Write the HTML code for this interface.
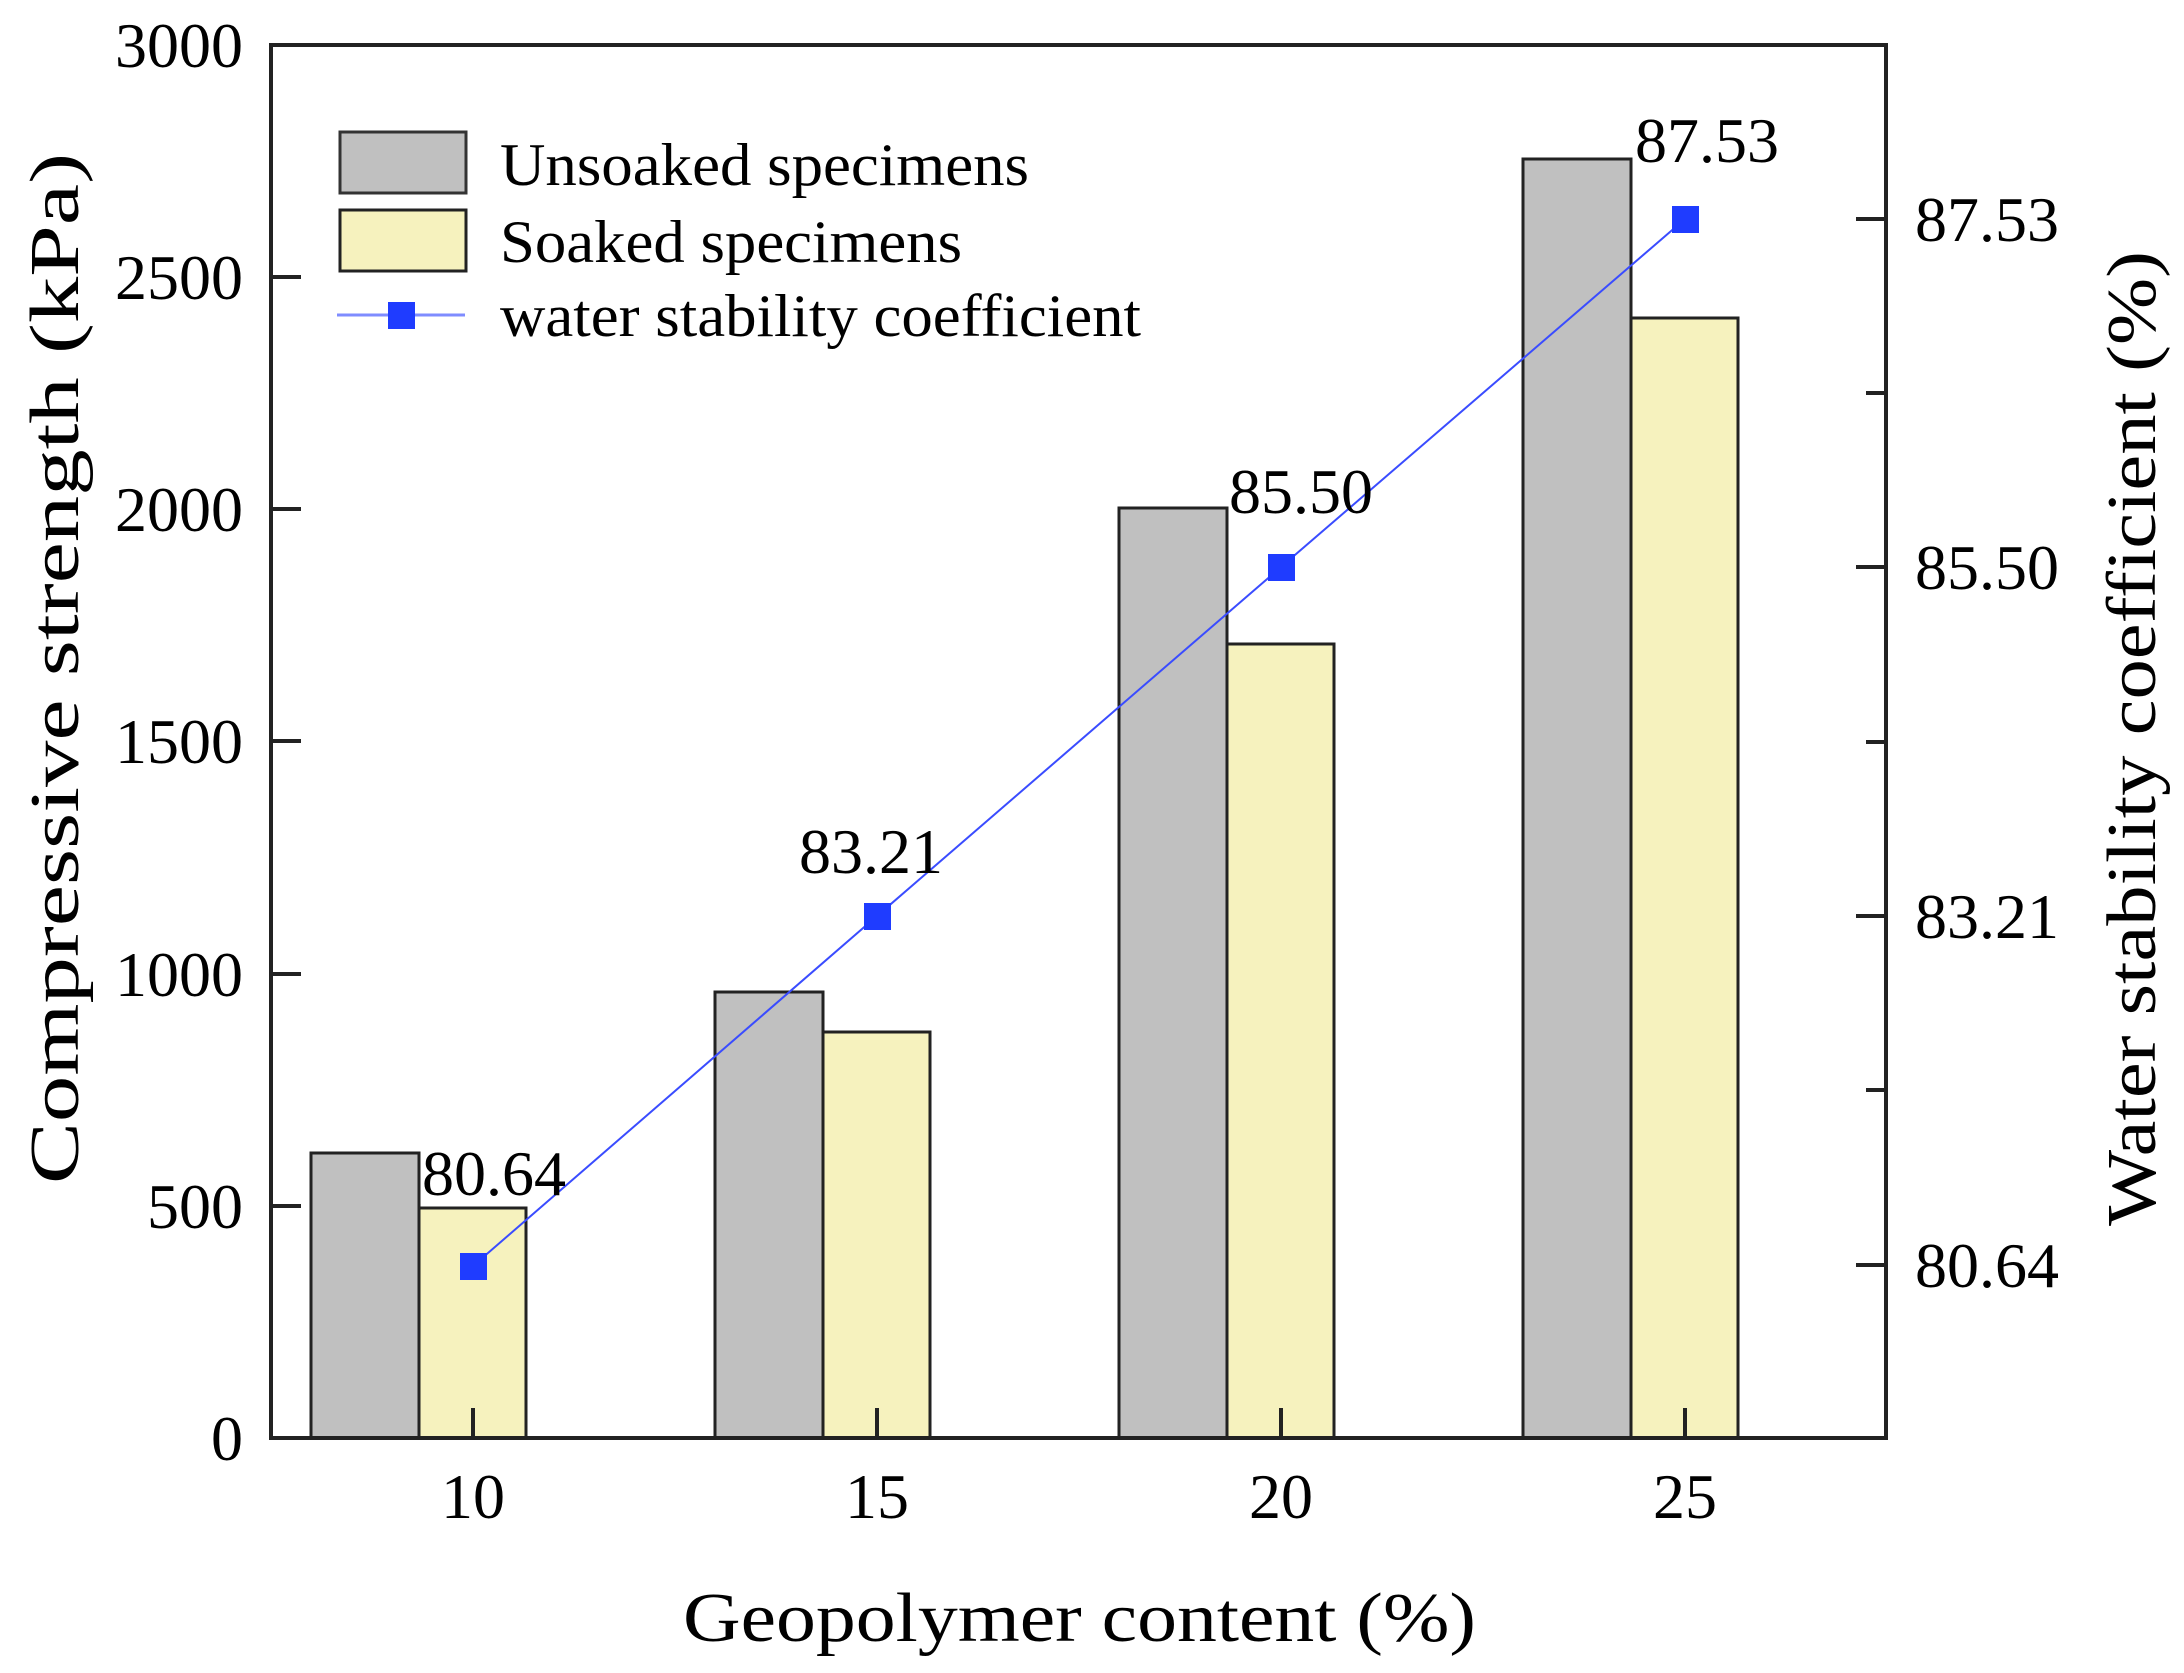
<!DOCTYPE html>
<html><head><meta charset="utf-8"><style>html,body{margin:0;padding:0;background:#fff}svg{display:block}text{font-family:"Liberation Serif",serif;fill:#000}</style></head>
<body>
<svg width="2184" height="1673" viewBox="0 0 2184 1673" xmlns="http://www.w3.org/2000/svg">
<g stroke="#222" stroke-width="3">
<rect x="311" y="1153" width="108" height="285" fill="#c0c0c0"/>
<rect x="419" y="1208" width="107" height="230" fill="#f6f2be"/>
<rect x="715" y="992" width="108" height="446" fill="#c0c0c0"/>
<rect x="823" y="1032" width="107" height="406" fill="#f6f2be"/>
<rect x="1119" y="508" width="108" height="930" fill="#c0c0c0"/>
<rect x="1227" y="644" width="107" height="794" fill="#f6f2be"/>
<rect x="1523" y="159" width="108" height="1279" fill="#c0c0c0"/>
<rect x="1631" y="318" width="107" height="1120" fill="#f6f2be"/>
</g>
<g stroke="#222" stroke-width="4" fill="none">
<rect x="271" y="45" width="1615" height="1393"/>
<path d="M271 45h30M271 277h30M271 509h30M271 741h30M271 974h30M271 1206h30"/>
<path d="M1886 219h-30M1886 393h-20M1886 567h-30M1886 742h-20M1886 916h-30M1886 1090h-20M1886 1265h-30"/>
<path d="M473 1438v-30M877 1438v-30M1281 1438v-30M1685 1438v-30"/>
</g>
<polyline points="473,1266 877,916 1281,567 1685,219" fill="none" stroke="#3a4cff" stroke-width="2"/>
<g fill="#1f3cff">
<rect x="460" y="1253" width="27" height="27"/><rect x="864" y="903" width="27" height="27"/>
<rect x="1268" y="554" width="27" height="27"/><rect x="1672" y="206" width="27" height="27"/>
</g>
<g font-size="64">
<text x="422" y="1195">80.64</text>
<text x="871" y="873" text-anchor="middle">83.21</text>
<text x="1229" y="513">85.50</text>
<text x="1635" y="162">87.53</text>
</g>
<g font-size="64" text-anchor="end">
<text x="243" y="67">3000</text><text x="243" y="299">2500</text><text x="243" y="531">2000</text>
<text x="243" y="763">1500</text><text x="243" y="996">1000</text><text x="243" y="1228">500</text><text x="243" y="1460">0</text>
</g>
<g font-size="64">
<text x="1915" y="241">87.53</text><text x="1915" y="589">85.50</text>
<text x="1915" y="938">83.21</text><text x="1915" y="1287">80.64</text>
</g>
<g font-size="64" text-anchor="middle">
<text x="473" y="1518">10</text><text x="877" y="1518">15</text><text x="1281" y="1518">20</text><text x="1685" y="1518">25</text>
</g>
<text x="683" y="1641" font-size="70" textLength="793" lengthAdjust="spacingAndGlyphs">Geopolymer content (%)</text>
<text transform="translate(78,1184) rotate(-90)" font-size="70" textLength="1031" lengthAdjust="spacingAndGlyphs">Compressive strength (kPa)</text>
<text transform="translate(2155,1226) rotate(-90)" font-size="70" textLength="975" lengthAdjust="spacingAndGlyphs">Water stability coefficient (%)</text>
<rect x="340" y="132" width="126" height="61" fill="#c0c0c0" stroke="#333" stroke-width="3"/>
<rect x="340" y="210" width="126" height="61" fill="#f6f2be" stroke="#222" stroke-width="3"/>
<path d="M337 315h128" stroke="#7f8cff" stroke-width="3"/>
<rect x="388" y="302" width="27" height="27" fill="#1f3cff"/>
<g font-size="60">
<text x="500" y="185" textLength="529" lengthAdjust="spacingAndGlyphs">Unsoaked specimens</text>
<text x="500" y="262" textLength="462" lengthAdjust="spacingAndGlyphs">Soaked specimens</text>
<text x="500" y="336" textLength="641" lengthAdjust="spacingAndGlyphs">water stability coefficient</text>
</g>
</svg>
</body></html>
